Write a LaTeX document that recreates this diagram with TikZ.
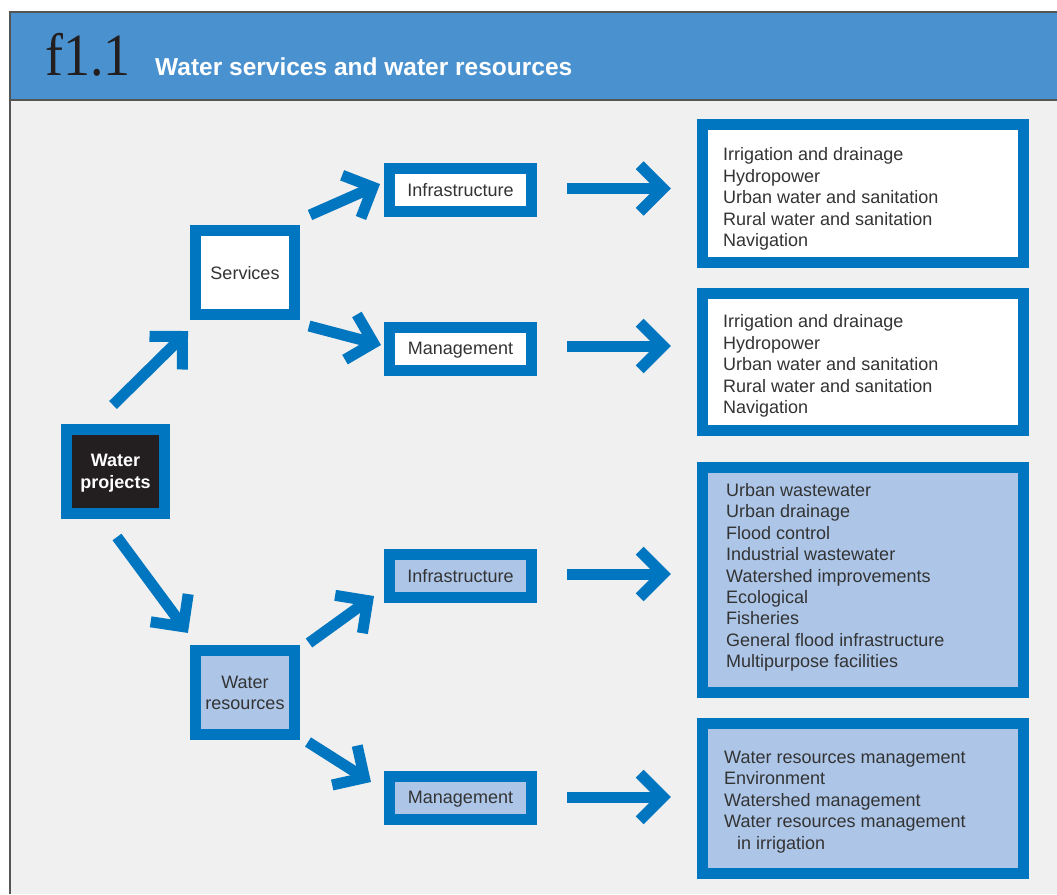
\documentclass[tikz,border=0pt]{standalone}
\usepackage{fontspec}
\newfontfamily\arial{Liberation Sans}
\newfontfamily\timesfont{Liberation Serif}
\usetikzlibrary{calc}
\definecolor{hdrblue}{HTML}{4A92CF}
\definecolor{boxblue}{HTML}{0075C0}
\definecolor{lightblue}{HTML}{ADC6E8}
\definecolor{bggray}{HTML}{F0F0F0}
\definecolor{txtgray}{HTML}{333333}
\definecolor{framegray}{HTML}{555555}
\definecolor{nearblack}{HTML}{231F20}
\newcommand\chevarrow[2]{%
  \draw[arrshaft] (#1) -- (#2);
  \draw[arrshaft,line join=miter] ($(#2)!33pt!45:(#1)$) -- (#2) -- ($(#2)!33pt!-45:(#1)$);}
\begin{document}
\begin{tikzpicture}[x=1pt,y=-1pt,
  arrshaft/.style={draw=boxblue,line width=11pt},
  bluebox/.style={draw=boxblue,line width=11pt,rectangle,inner sep=0pt,
    font=\arial\fontsize{18}{21}\selectfont,text=txtgray,align=center,text depth=-0.5pt},
  smallbox/.style={bluebox,minimum width=142pt,minimum height=43pt},
  midbox/.style={bluebox,minimum width=99pt,minimum height=84pt},
  bigbox/.style={bluebox,minimum width=321pt},
  listtext/.style={anchor=west,inner sep=0pt,align=left,text=txtgray,
    font=\arial\fontsize{18}{21.4}\selectfont}]
\useasboundingbox (0,0) rectangle (1057,894);
% frame and header
\fill[hdrblue] (10,12) rectangle (1057,100);
\fill[bggray] (10,100) rectangle (1057,894);
\draw[framegray,line width=1.3pt] (1057,12) -- (10,12) -- (10,894);
\draw[framegray,line width=1.3pt] (10,100) -- (1057,100);
\node[anchor=base west,inner sep=0pt,text=nearblack] (fig) at (45,75)
  {\scalebox{0.9}[1]{\timesfont\fontsize{60}{60}\selectfont f1.1}};
\node[anchor=base west,inner sep=0pt,text=white] (title) at (155,75)
  {\arial\bfseries\fontsize{24.5}{28}\selectfont Water services and water resources};
% boxes
\node[midbox,fill=nearblack,minimum width=98pt,text=white,text depth=-8pt,
  font=\arial\bfseries\fontsize{18}{22}\selectfont] (wp) at (115.5,471.5) {Water\\projects};
\node[midbox,fill=white] (serv) at (245,272.5) {Services};
\node[midbox,fill=lightblue,text depth=-6.5pt] (wres) at (245,692.5) {Water\\resources};
\node[smallbox,fill=white] (infra1) at (460.5,190) {Infrastructure};
\node[smallbox,fill=white] (mgmt1) at (460.5,348.5) {Management};
\node[smallbox,fill=lightblue] (infra2) at (460.5,575.5) {Infrastructure};
\node[smallbox,fill=lightblue] (mgmt2) at (460.5,797.5) {Management};
\node[bigbox,fill=white,minimum height=138pt] (r1) at (863,193.5) {};
\node[bigbox,fill=white,minimum height=137pt] (r2) at (863,362) {};
\node[bigbox,fill=lightblue,minimum height=225pt] (r3) at (863,580) {};
\node[bigbox,fill=lightblue,minimum height=150pt] (r4) at (863,798.5) {};
\node[listtext] (t1) at (723,199) {Irrigation and drainage\\Hydropower\\Urban water and sanitation\\Rural water and sanitation\\Navigation};
\node[listtext] (t2) at (723,366) {Irrigation and drainage\\Hydropower\\Urban water and sanitation\\Rural water and sanitation\\Navigation};
\node[listtext] (t3) at (726,577.5) {Urban wastewater\\Urban drainage\\Flood control\\Industrial wastewater\\Watershed improvements\\Ecological\\Fisheries\\General flood infrastructure\\Multipurpose facilities};
\node[listtext] (t4) at (724,802) {Water resources management\\Environment\\Watershed management\\Water resources management\\\hspace*{13pt}in irrigation};
% arrow coordinates
\coordinate (a1s) at (113,405); \coordinate (a1t) at (182.5,336.5);
\coordinate (a2s) at (117,537); \coordinate (a2t) at (183.3,626.7);
\coordinate (a3s) at (310,215); \coordinate (a3t) at (372.9,187.2);
\coordinate (a4s) at (309,326); \coordinate (a4t) at (373.5,343);
\coordinate (a5s) at (309,643); \coordinate (a5t) at (367.7,600.6);
\coordinate (a6s) at (308,742); \coordinate (a6t) at (364.4,777.8);
\coordinate (h1s) at (567,188.5); \coordinate (h1t) at (663,188.5);
\coordinate (h2s) at (567,346); \coordinate (h2t) at (663,346);
\coordinate (h3s) at (567,574); \coordinate (h3t) at (663,574);
\coordinate (h4s) at (567,797); \coordinate (h4t) at (663,797);
\chevarrow{a1s}{a1t}
\chevarrow{a2s}{a2t}
\chevarrow{a3s}{a3t}
\chevarrow{a4s}{a4t}
\chevarrow{a5s}{a5t}
\chevarrow{a6s}{a6t}
\chevarrow{h1s}{h1t}
\chevarrow{h2s}{h2t}
\chevarrow{h3s}{h3t}
\chevarrow{h4s}{h4t}
\end{tikzpicture}
\end{document}
